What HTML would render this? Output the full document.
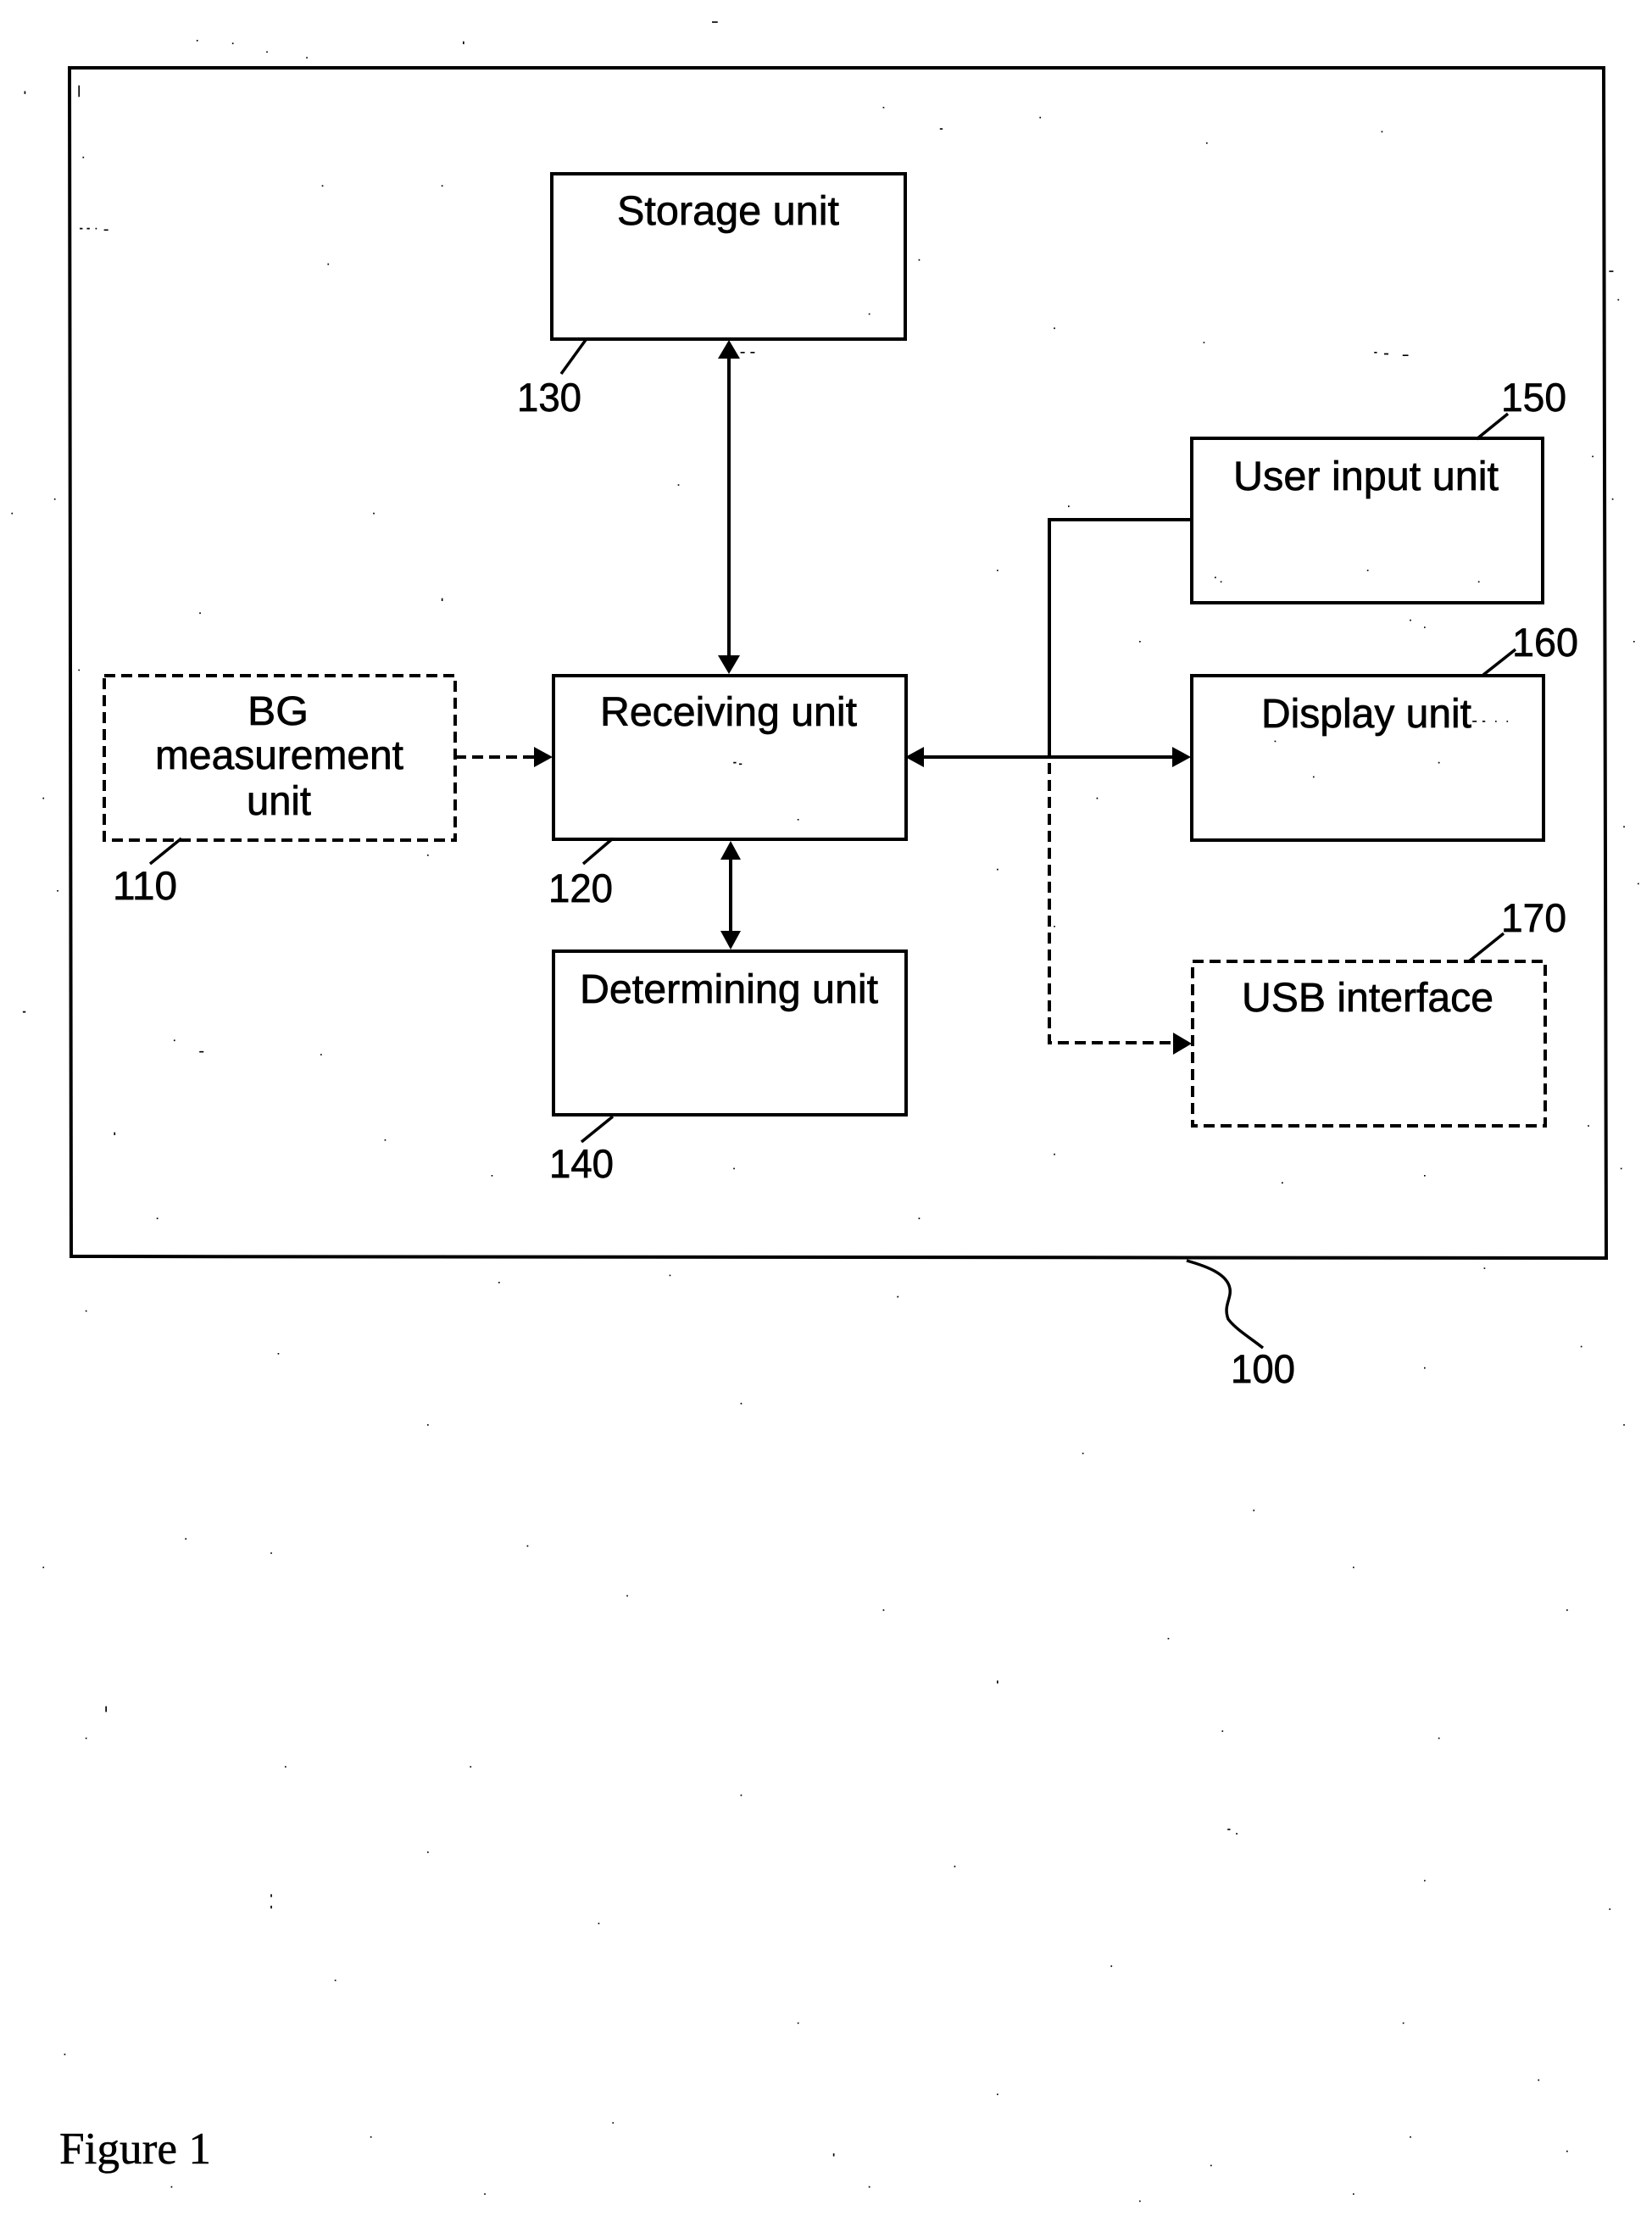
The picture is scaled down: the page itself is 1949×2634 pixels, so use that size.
<!DOCTYPE html>
<html lang="en">
<head>
<meta charset="utf-8">
<title>Figure 1</title>
<style>
html,body{margin:0;padding:0;background:#fff;}
svg{display:block;}
text{font-family:"Liberation Sans",Arial,sans-serif;font-size:48px;fill:#000;stroke:#000;stroke-width:.7px;}
.n{font-size:47px;}
.serif{font-family:"Liberation Serif","Times New Roman",serif;font-size:53px;stroke-width:.5px;}
.b{fill:none;stroke:#000;stroke-width:4;}
.d{fill:none;stroke:#000;stroke-width:4;stroke-dasharray:13 7;}
.l{fill:none;stroke:#000;stroke-width:3.5;}
.a{fill:#000;}
</style>
</head>
<body>
<svg width="1949" height="2634" viewBox="0 0 1949 2634" xmlns="http://www.w3.org/2000/svg">
<rect width="1949" height="2634" fill="#fff"/>

<!-- specks -->
<g transform="scale(1.68)">
<path fill="#000" d="M138 28h1v1h-1zM163 30h1v1h-1zM187 36h1v1h-1zM215 40h1v1h-1zM325 29h1v2h-1zM500 15h4v1h-4zM17 64h1v2h-1zM55 60h1v8h-1zM58 110h1v1h-1zM56 160h2v1h-2zM61 160h2v1h-2zM67 160h1v1h-1zM73 161h3v1h-3zM226 130h1v1h-1zM310 130h1v1h-1zM230 185h1v1h-1zM660 90h2v1h-2zM620 75h1v1h-1zM730 82h1v1h-1zM847 100h1v1h-1zM970 92h1v1h-1zM1130 190h3v1h-3zM1136 210h1v1h-1zM645 182h1v1h-1zM610 220h1v1h-1zM520 247h3v1h-3zM527 247h3v1h-3zM965 247h2v1h-2zM972 248h3v1h-3zM985 249h4v1h-4zM845 240h1v1h-1zM740 230h1v1h-1zM1118 320h1v1h-1zM1132 350h1v1h-1zM8 360h1v1h-1zM38 350h1v1h-1zM140 430h1v1h-1zM262 360h1v1h-1zM310 420h1v2h-1zM476 340h1v1h-1zM700 400h1v1h-1zM750 355h1v1h-1zM853 405h1v1h-1zM857 408h1v1h-1zM960 400h1v1h-1zM1038 408h1v1h-1zM990 435h1v1h-1zM1000 440h1v1h-1zM800 450h1v1h-1zM1147 450h1v1h-1zM16 710h2v1h-2zM55 470h1v1h-1zM30 560h1v1h-1zM40 625h1v1h-1zM300 600h1v1h-1zM515 535h2v1h-2zM519 536h2v1h-2zM560 575h1v1h-1zM1034 506h3v1h-3zM1041 506h2v1h-2zM1050 506h1v1h-1zM1058 506h1v1h-1zM895 520h1v1h-1zM922 545h1v1h-1zM1010 535h1v1h-1zM770 560h1v1h-1zM700 610h1v1h-1zM740 650h1v1h-1zM1140 580h1v1h-1zM1150 620h1v1h-1zM122 730h1v1h-1zM140 738h3v1h-3zM225 740h1v1h-1zM80 795h1v2h-1zM110 855h1v1h-1zM270 800h1v1h-1zM345 825h1v1h-1zM515 820h1v1h-1zM645 855h1v1h-1zM740 810h1v1h-1zM900 830h1v1h-1zM1000 825h1v1h-1zM1115 790h1v1h-1zM1138 820h1v1h-1zM350 900h1v1h-1zM470 895h1v1h-1zM630 910h1v1h-1zM1042 890h1v1h-1zM1110 945h1v1h-1zM1000 960h1v1h-1zM60 920h1v1h-1zM195 950h1v1h-1zM300 1000h1v1h-1zM520 985h1v1h-1zM760 1020h1v1h-1zM880 1060h1v1h-1zM1140 1000h1v1h-1zM30 1100h1v1h-1zM130 1080h1v1h-1zM190 1090h1v1h-1zM370 1085h1v1h-1zM440 1120h1v1h-1zM620 1130h1v1h-1zM700 1180h1v2h-1zM820 1150h1v1h-1zM950 1100h1v1h-1zM1100 1130h1v1h-1zM74 1198h1v4h-1zM60 1220h1v1h-1zM200 1240h1v1h-1zM330 1240h1v1h-1zM520 1260h1v1h-1zM858 1215h1v1h-1zM1010 1220h1v1h-1zM862 1284h2v1h-2zM868 1287h1v1h-1zM190 1330h1v2h-1zM190 1338h1v2h-1zM300 1300h1v1h-1zM420 1350h1v1h-1zM670 1310h1v1h-1zM1000 1320h1v1h-1zM1130 1340h1v1h-1zM45 1442h1v1h-1zM235 1390h1v1h-1zM560 1420h1v1h-1zM780 1380h1v1h-1zM985 1420h1v1h-1zM1080 1460h1v1h-1zM585 1512h1v2h-1zM260 1500h1v1h-1zM430 1490h1v1h-1zM700 1470h1v1h-1zM850 1520h1v1h-1zM990 1500h1v1h-1zM1100 1510h1v1h-1zM120 1535h1v1h-1zM340 1540h1v1h-1zM610 1535h1v1h-1zM800 1545h1v1h-1zM950 1540h1v1h-1z"/>
</g>

<!-- outer box -->
<path class="b" d="M82 80 L1892 80 L1895 1484 L84 1482 Z"/>

<!-- boxes -->
<rect class="b" x="651" y="205" width="417" height="195"/>
<rect class="b" x="653" y="797" width="416" height="193"/>
<rect class="b" x="653" y="1122" width="416" height="193"/>
<rect class="b" x="1406" y="517" width="414" height="194"/>
<rect class="b" x="1406" y="797" width="415" height="194"/>
<rect class="d" x="123" y="797" width="414" height="194"/>
<rect class="d" x="1407" y="1134" width="416" height="194"/>

<!-- connectors -->
<path class="b" d="M860 420 V777"/>
<path class="a" d="M860 401 L873 423 L847 423 Z M860 795 L847 773 L873 773 Z"/>

<path class="b" d="M862 1010 V1102"/>
<path class="a" d="M862 992 L874 1014 L850 1014 Z M862 1120 L850 1098 L874 1098 Z"/>

<path class="d" d="M537 893 H632"/>
<path class="a" d="M652 893 L630 881 L630 905 Z"/>

<path class="b" d="M1088 893 H1385"/>
<path class="a" d="M1068 893 L1090 881 L1090 905 Z M1405 893 L1383 881 L1383 905 Z"/>

<path class="b" d="M1405 613 H1238 V893"/>
<path class="d" d="M1238 900 V1230 H1385"/>
<path class="a" d="M1406 1231 L1384 1218 L1384 1244 Z"/>

<!-- leaders -->
<path class="l" d="M691 401 L662 441"/>
<path class="l" d="M214 989 L177 1019"/>
<path class="l" d="M723 989 L688 1019"/>
<path class="l" d="M723 1317 L686 1347"/>
<path class="l" d="M1742 518 L1779 488"/>
<path class="l" d="M1750 796 L1788 766"/>
<path class="l" d="M1733 1134 L1774 1101"/>
<path class="l" d="M1400 1487 C1425 1494 1448 1503 1451 1520 C1453 1532 1443 1540 1449 1556 C1458 1568 1475 1578 1490 1590"/>

<!-- labels -->
<text x="728" y="265" textLength="262" lengthAdjust="spacingAndGlyphs">Storage unit</text>
<text x="708" y="856" textLength="303" lengthAdjust="spacingAndGlyphs">Receiving unit</text>
<text x="684" y="1183" textLength="352" lengthAdjust="spacingAndGlyphs">Determining unit</text>
<text x="1455" y="578" textLength="313" lengthAdjust="spacingAndGlyphs">User input unit</text>
<text x="1488" y="858" textLength="248" lengthAdjust="spacingAndGlyphs">Display unit</text>
<text x="1465" y="1193" textLength="297" lengthAdjust="spacingAndGlyphs">USB interface</text>
<text x="292" y="855" textLength="72" lengthAdjust="spacingAndGlyphs">BG</text>
<text x="183" y="907" textLength="293" lengthAdjust="spacingAndGlyphs">measurement</text>
<text x="291" y="961" textLength="76" lengthAdjust="spacingAndGlyphs">unit</text>

<text class="n" x="610" y="485" textLength="76" lengthAdjust="spacingAndGlyphs">130</text>
<text class="n" x="133" y="1061" textLength="76" lengthAdjust="spacingAndGlyphs">110</text>
<text class="n" x="647" y="1064" textLength="76" lengthAdjust="spacingAndGlyphs">120</text>
<text class="n" x="648" y="1389" textLength="76" lengthAdjust="spacingAndGlyphs">140</text>
<text class="n" x="1771" y="485" textLength="77" lengthAdjust="spacingAndGlyphs">150</text>
<text class="n" x="1784" y="774" textLength="78" lengthAdjust="spacingAndGlyphs">160</text>
<text class="n" x="1771" y="1099" textLength="77" lengthAdjust="spacingAndGlyphs">170</text>
<text class="n" x="1452" y="1631" textLength="76" lengthAdjust="spacingAndGlyphs">100</text>

<text class="serif" x="70" y="2552" textLength="179" lengthAdjust="spacingAndGlyphs">Figure 1</text>
</svg>
</body>
</html>
